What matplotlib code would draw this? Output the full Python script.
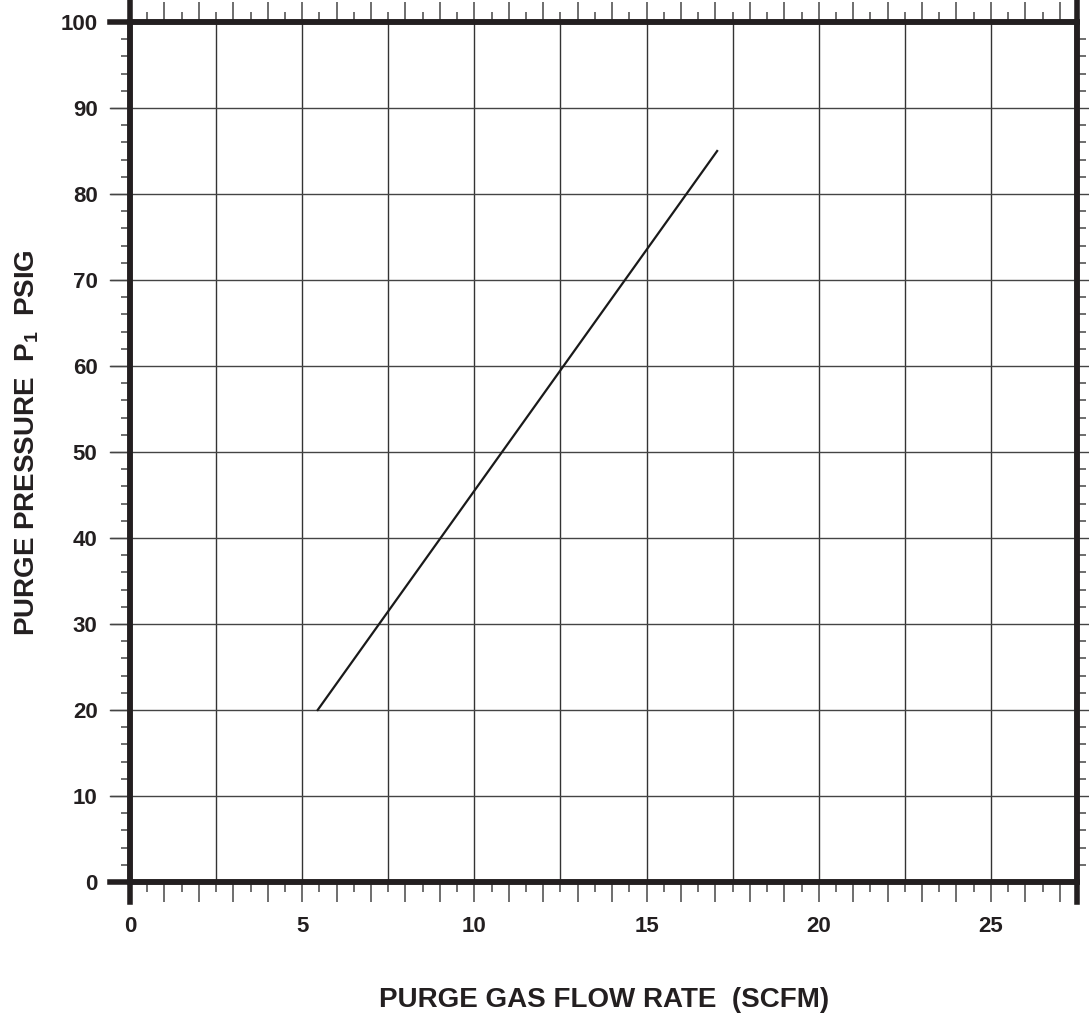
import matplotlib
matplotlib.use("Agg")
import matplotlib.pyplot as plt

# データ
flow_rate = [5.45, 17.05]      # SCFM
pressure = [20, 85]            # PSIG
x_ticks = [0, 5, 10, 15, 20, 25]
y_ticks = [0, 10, 20, 30, 40, 50, 60, 70, 80, 90, 100]

plt.rcParams['font.family'] = 'Liberation Sans'
plt.rcParams['font.weight'] = 'bold'
plt.rcParams['mathtext.fontset'] = 'custom'
plt.rcParams['mathtext.rm'] = 'Liberation Sans:bold'
plt.rcParams['mathtext.it'] = 'Liberation Sans:bold'
plt.rcParams['mathtext.bf'] = 'Liberation Sans:bold'

fig = plt.figure(figsize=(10.89, 10.17), dpi=100)
ax = fig.add_axes([130 / 1089, 135 / 1017, 947 / 1089, 860 / 1017])

ax.set_xlim(0, 27.5)
ax.set_ylim(0, 100)

# グリッド
for gx in [2.5 * i for i in range(1, 11)]:
    ax.axvline(gx, color='#333333', lw=1.0, zorder=1)
for gy in y_ticks[1:-1]:
    ax.axhline(gy, xmin=-0.021, xmax=1.013, color='#444444', lw=1.0,
               clip_on=False, zorder=1)

# データプロット
ax.plot(flow_rate, pressure, color='#1a1a1a', lw=1.6, zorder=3)

# 枠線
for s in ax.spines.values():
    s.set_linewidth(4)
    s.set_color('#231f20')
    s.set_zorder(4)
# 枠の延長
ax.axvline(0, ymin=-0.0235, ymax=1.0235, color='#231f20', lw=4, clip_on=False, zorder=4)
ax.axvline(27.5, ymin=-0.0235, ymax=1.0235, color='#231f20', lw=4, clip_on=False, zorder=4)
ax.axhline(0, xmin=-0.021, xmax=1.0, color='#231f20', lw=4, clip_on=False, zorder=4)
ax.axhline(100, xmin=-0.021, xmax=1.0, color='#231f20', lw=4, clip_on=False, zorder=4)

# 目盛り
ax.set_xticks(x_ticks)
ax.set_xticks([i for i in range(1, 28) if i % 5 != 0] + [i + 0.5 for i in range(27)], minor=True)
ax.tick_params(axis='x', which='major', direction='out', length=14.4, width=1.2,
               color='#555555', top=True, bottom=True, labelsize=16, pad=10)
ax.tick_params(axis='x', which='minor', direction='out', width=1.2, color='#555555',
               top=True, bottom=True)
# 整数は長く、0.5は短く
for t, v in zip(ax.xaxis.get_minor_ticks(), ax.xaxis.get_minorticklocs()):
    L = 14.4 if abs(v - round(v)) < 1e-6 else 7.2
    t.tick1line.set_markersize(L)
    t.tick2line.set_markersize(L)

ax.set_yticks(y_ticks)
ax.set_yticks([i for i in range(2, 100, 2) if i % 10 != 0], minor=True)
ax.tick_params(axis='y', which='major', direction='out', length=14.4, width=1.0,
               color='#444444', left=True, right=False, labelsize=16, pad=9)
ax.tick_params(axis='y', which='minor', direction='out', length=6.2, width=1.2,
               color='#555555', left=True, right=True)

for lab in ax.get_xticklabels() + ax.get_yticklabels():
    lab.set_fontweight('bold')
    lab.set_color('#231f20')

# ラベル設定
fig.text(604 / 1089, 1 - 1000 / 1017, 'PURGE GAS FLOW RATE  (SCFM)', ha='center', va='center',
         fontsize=20, fontweight='bold', color='#231f20')
fig.text(27 / 1089, 1 - 443 / 1017, r'PURGE PRESSURE  P$_1$  PSIG', ha='center', va='center',
         rotation=90, fontsize=20, fontweight='bold', color='#231f20')

plt.savefig('out.png', dpi=100)
